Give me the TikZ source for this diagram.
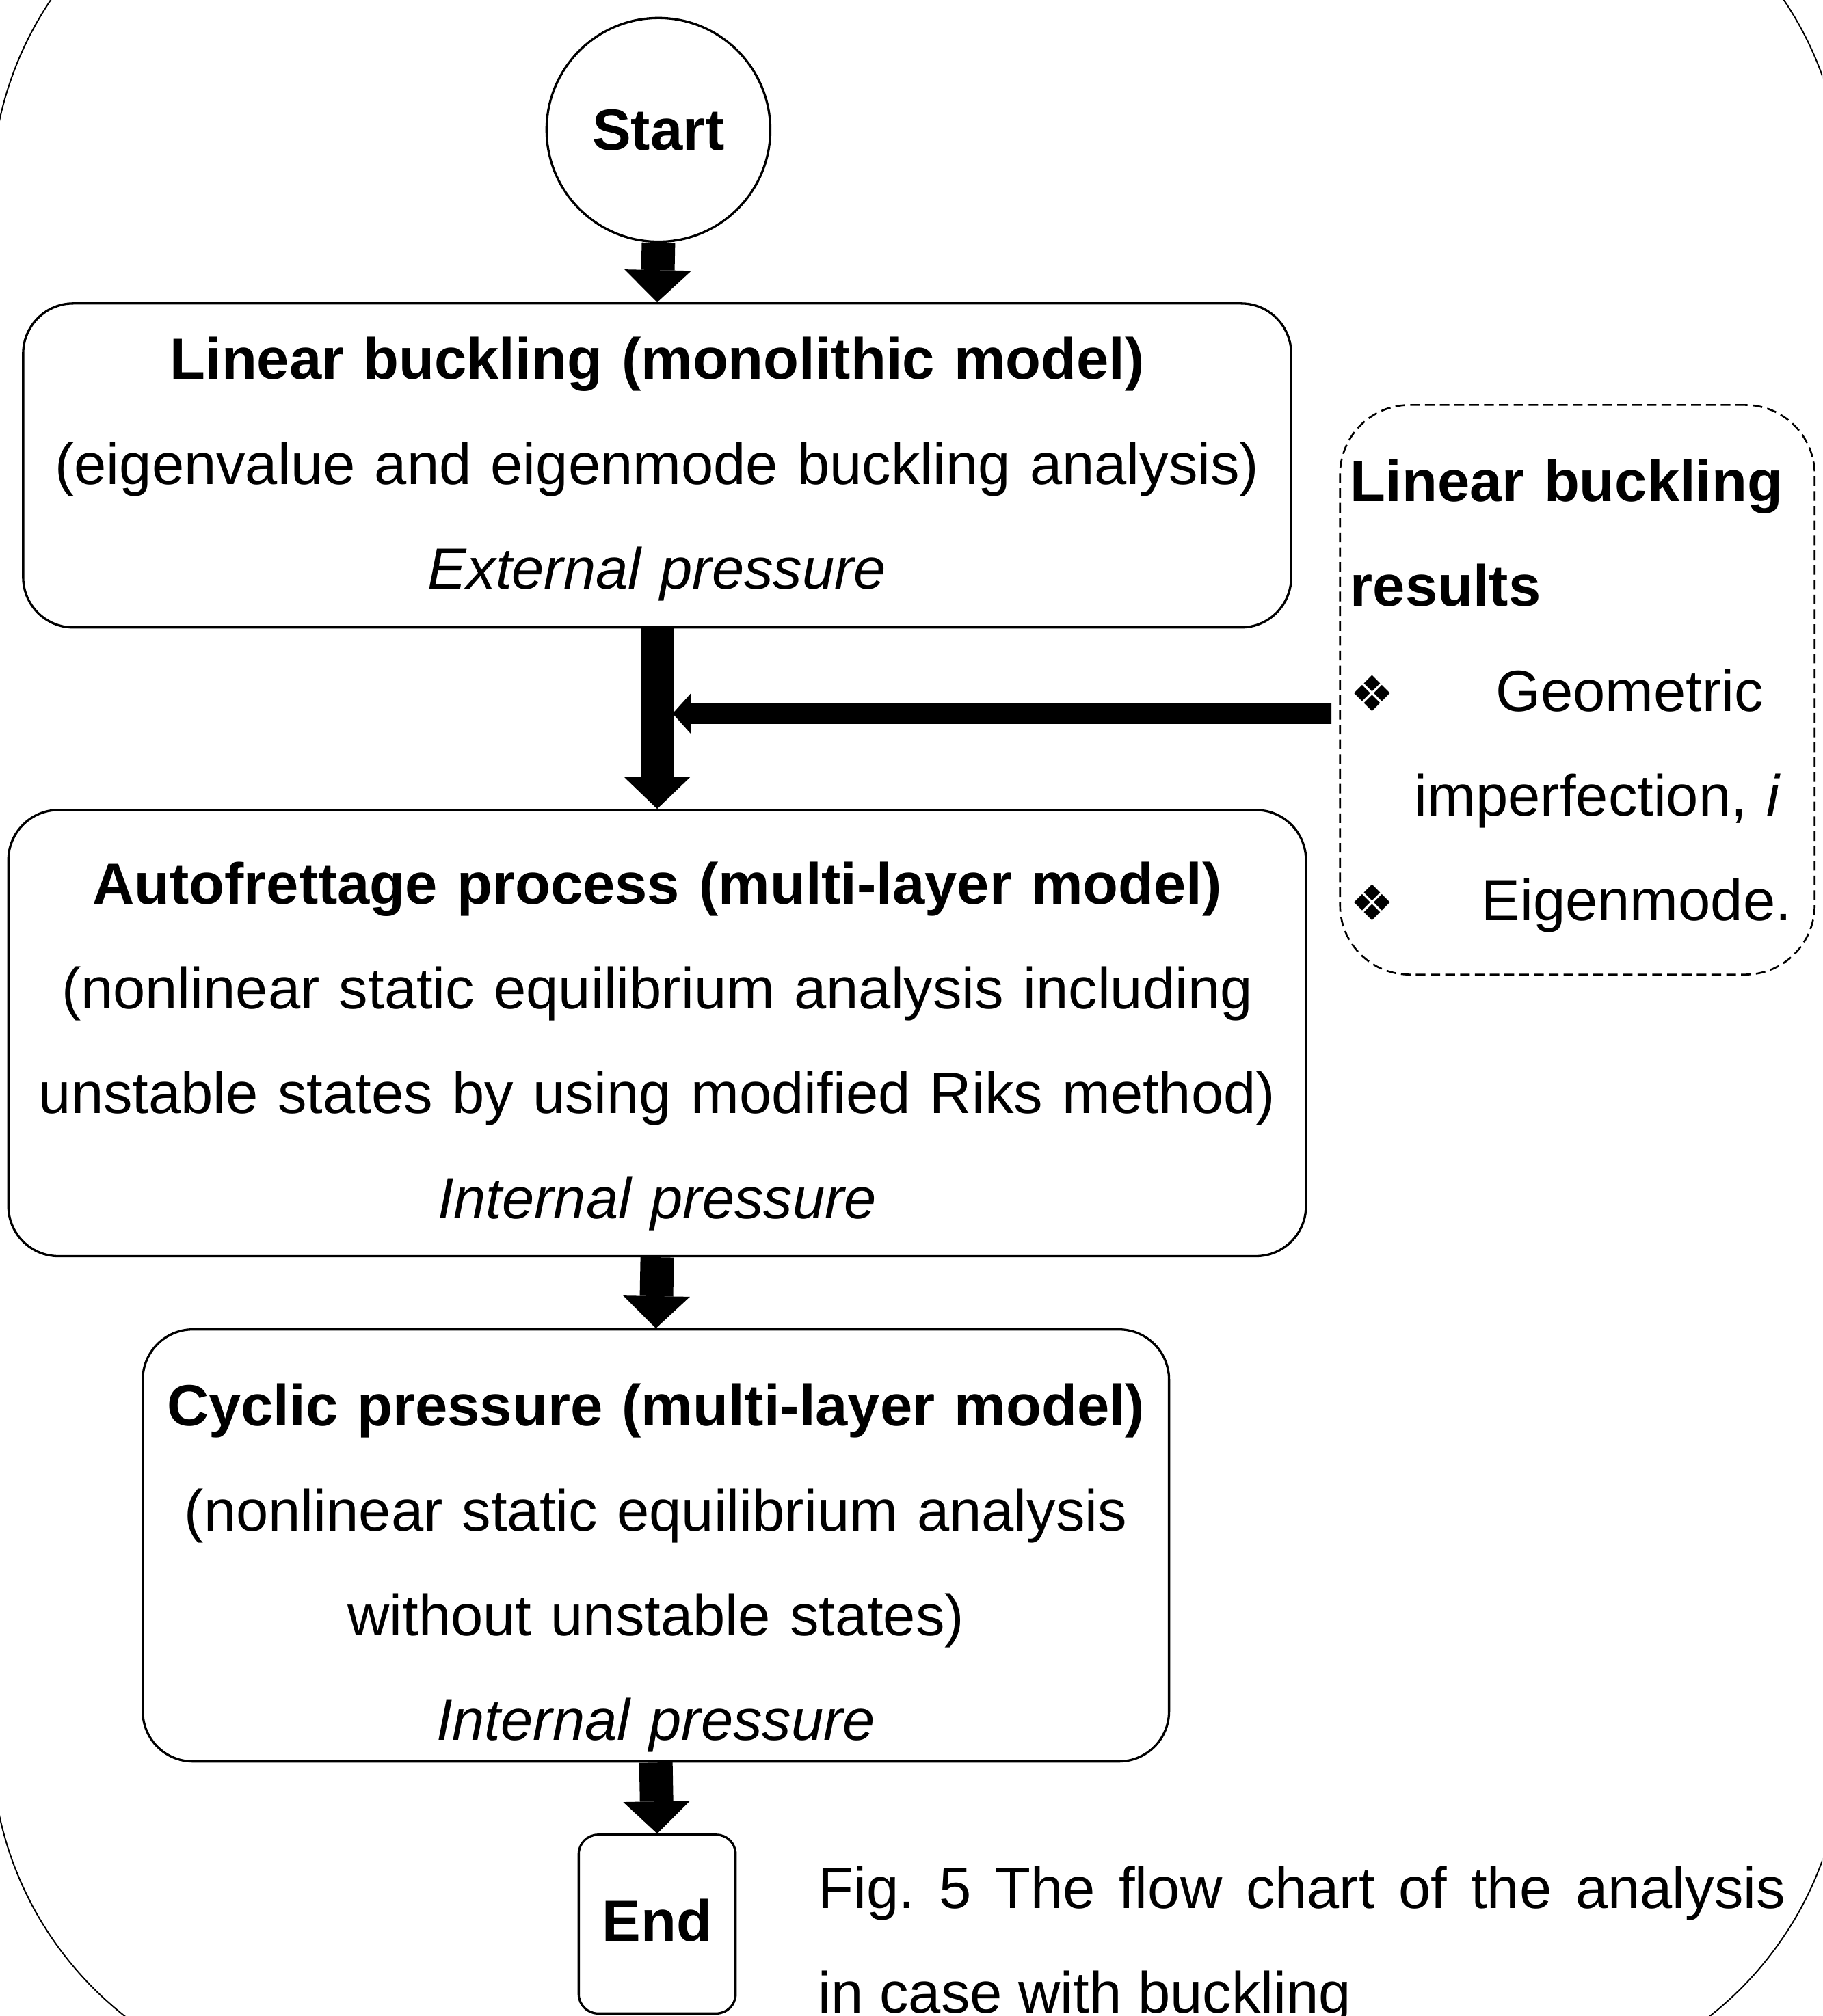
\documentclass[tikz,border=0pt]{standalone}
\usepackage{fontspec}
\setmainfont{Liberation Sans}
\newfontfamily\diafont[Scale=0.85]{DejaVu Sans}
\usetikzlibrary{positioning, arrows.meta, calc}
\newcommand{\bul}{{\diafont ❖}}

\begin{document}
\begin{tikzpicture}[
  font=\fontsize{25.7}{46.4}\selectfont,
  stage/.style={draw, line width=1pt, rounded corners=0.78cm, align=center,
                inner sep=0pt},
  term/.style={draw, line width=1pt, inner sep=0pt,
               font=\fontsize{25.7}{46.4}\selectfont\bfseries},
  note/.style={draw, line width=0.8pt, dash pattern=on 0.15cm off 0.08cm,
               rounded corners=1.08cm, align=left, inner xsep=0.16cm,
               inner ysep=0pt, text width=7.06cm},
  flow/.style={line width=0.52cm,
               -{Triangle[length=0.5cm, width=1.04cm, line width=0pt]}},
  feed/.style={line width=0.32cm,
               -{Triangle[length=0.28cm, width=0.62cm, line width=0pt]}},
  bigframe/.style={line width=0.6pt, rounded corners=5.42cm},
]
\useasboundingbox (0,0) rectangle (28.34,-31.36);
\clip (0,0) rectangle (28.34,-31.36);
\draw[bigframe] (-0.13,2.4) rectangle (28.66,-32.52);

\node[term, circle, minimum size=3.48cm] (start) at (10.24,-2.02) {Start};
\node[stage, text width=19.72cm, text height=1.18cm, text depth=3.86cm] (lin)
  at (10.22,-7.24)
  {\textbf{Linear buckling (monolithic model)}\\
   (eigenvalue and eigenmode buckling analysis)\\
   \textit{External pressure}};
\node[stage, text width=20.18cm, text height=1.46cm, text depth=5.48cm] (auto)
  at (10.22,-16.07)
  {\textbf{Autofrettage process (multi-layer model)}\\
   (nonlinear static equilibrium analysis including\\
   unstable states by using modified Riks method)\\
   \textit{Internal pressure}};
\node[stage, text width=15.96cm, text height=1.5cm, text depth=5.22cm] (cyc)
  at (10.2,-24.04)
  {\textbf{Cyclic pressure (multi-layer model)}\\
   (nonlinear static equilibrium analysis\\
   without unstable states)\\
   \textit{Internal pressure}};
\node[stage, rounded corners=0.3cm, text width=2.44cm, text height=1.66cm,
      text depth=1.12cm] (end) at (10.22,-29.93) {\textbf{End}};

\node[note, text height=1.5cm, text depth=7.36cm] (res) at (24.53,-10.73)
  {\textbf{Linear buckling}\\
   \textbf{results}\\
   \makebox[2.26cm][l]{\bul}Geometric\\
   \hspace*{1cm}imperfection, \textit{i}\\
   \makebox[2.04cm][l]{\bul}Eigenmode.};

\node[text width=15.04cm, align=justify, inner sep=0pt, anchor=base west] (cap)
  at (12.72,-29.68)
  {Fig.~5 The flow chart of the analysis\linebreak in case with buckling};

\draw[flow] (start.south) -- (lin.north);
\draw[flow] (lin.south) -- (auto.north);
\draw[flow] (auto.south) -- (cyc.north);
\draw[flow] (cyc.south) -- (end.north);
\coordinate (jn) at (10.46,-11.1);
\draw[feed] ([xshift=-0.12cm, yshift=-0.37cm]res.west) -- (jn);
\end{tikzpicture}
\end{document}
